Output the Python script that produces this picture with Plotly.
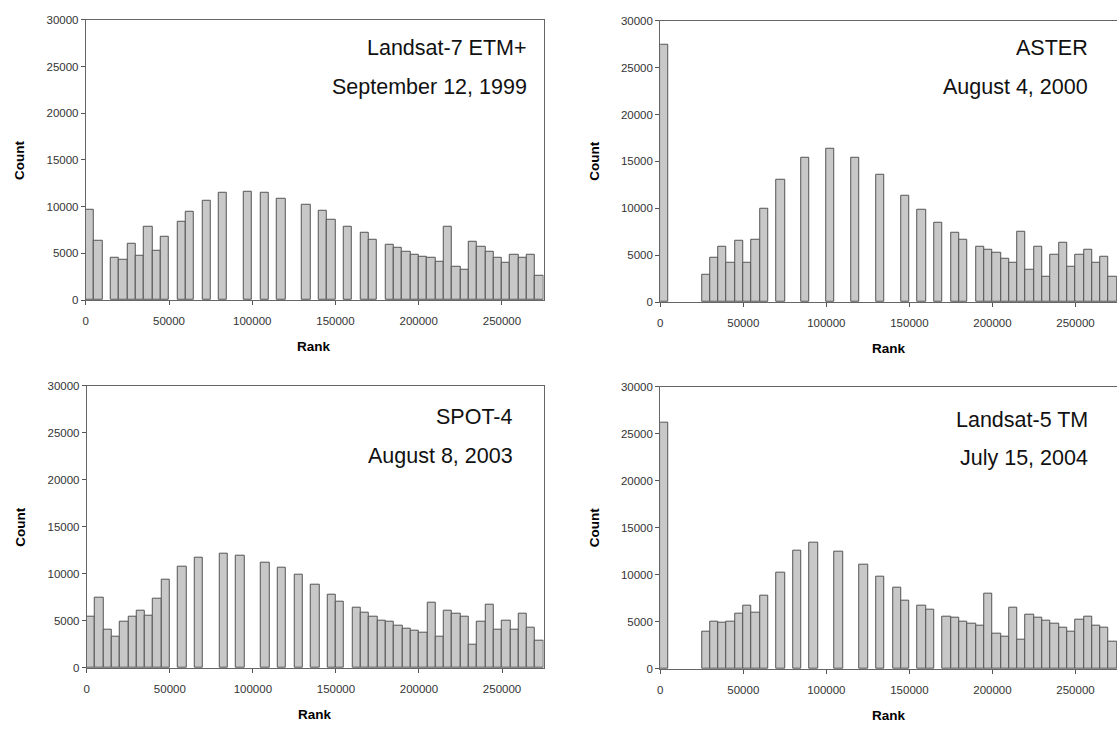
import plotly.graph_objects as go

W, H = 1117, 734
BIN = 5000
N_BINS = 55

titles = [("Landsat-7 ETM+", "September 12, 1999"),
          ("ASTER", "August 4, 2000"),
          ("SPOT-4", "August 8, 2003"),
          ("Landsat-5 TM", "July 15, 2004")]

etm7 = [9700, 6400, None, 4500, 4300, 6000, 4700, 7800, 5300, 6800,
        None, 8400, 9500, None, 10600, None, 11500, None, None, 11600,
        None, 11500, None, 10800, None, None, 10200, None, 9600, 8650,
        None, 7800, None, 7250, 6500, None, 5900, 5600, 5200, 4900,
        4600, 4500, 4100, 7800, 3600, 3300, 6200, 5700, 5200, 4500,
        3950, 4800, 4500, 4800, 2650]

aster = [27400, None, None, None, None, 2950, 4750, 5850, 4150, 6500,
         4200, 6600, 9950, None, 13000, None, None, 15400, None, None,
         16300, None, None, 15400, None, None, 13600, None, None, 11350,
         None, 9800, None, 8500, None, 7350, 6650, None, 5950, 5550,
         5250, 4650, 4200, 7500, 3400, 5950, 2750, 5050, 6300, 3750,
         5000, 5600, 4200, 4800, 2700]

spot4 = [5450, 7500, 4100, 3300, 4900, 5450, 6100, 5600, 7350, 9400,
         None, 10800, None, 11700, None, None, 12100, None, 11900, None,
         None, 11200, None, 10700, None, 9900, None, 8850, None, 7800,
         7100, None, 6400, 5900, 5400, 5000, 4900, 4500, 4200, 3950,
         3800, 6950, 3300, 6050, 5750, 5450, 2500, 4950, 6750, 4050,
         5050, 4050, 5750, 4300, 2850]

tm5 = [26200, None, None, None, None, 4000, 5050, 4950, 5050, 5900,
       6750, 5950, 7750, None, 10200, None, 12550, None, 13450, None,
       None, 12450, None, None, 11100, None, 9800, None, 8650, 7300,
       None, 6700, 6250, None, 5600, 5400, 5050, 4800, 4550, 8050,
       3800, 3450, 6500, 3150, 5750, 5400, 5150, 4800, 4400, 3950,
       5200, 5550, 4650, 4350, 2900]

series = [etm7, aster, spot4, tm5]
x_centers = [BIN / 2 + BIN * i for i in range(N_BINS)]

x_ticks = [0, 50000, 100000, 150000, 200000, 250000]
y_ticks = [0, 5000, 10000, 15000, 20000, 25000, 30000]

# pixel boxes: left, right, top, bottom
boxes = [(83, 542, 14, 299), (659, 1117, 15, 301),
         (84, 542, 386, 673), (659, 1117, 387, 674)]
# annotation anchors: right x, line1 y, line2 y
ann_pos = [(527, 43, 82), (1090, 43, 82), (513, 418, 457), (1090, 421, 460)]

fig = go.Figure()
FONT = "Liberation Sans, Arial, sans-serif"

for k, vals in enumerate(series):
    xa = "x" if k == 0 else f"x{k+1}"
    ya = "y" if k == 0 else f"y{k+1}"
    fig.add_trace(go.Bar(
        x=x_centers, y=vals, width=BIN, xaxis=xa, yaxis=ya,
        marker=dict(color="#c8c8c8", line=dict(color="#555555", width=1)),
        showlegend=False, hoverinfo="x+y"))
    l, r, t, b = boxes[k]
    xkey = "xaxis" if k == 0 else f"xaxis{k+1}"
    ykey = "yaxis" if k == 0 else f"yaxis{k+1}"
    right_cut = r >= W
    fig.layout[xkey] = dict(
        domain=[l / W, min(r / W, 1.0)], range=[0, 275000], anchor=ya,
        tickvals=x_ticks, ticktext=[str(v) for v in x_ticks],
        ticks="outside", ticklen=4, tickcolor="#555555",
        ticklabelstandoff=6,
        showline=True, linecolor="#666666", linewidth=1, mirror=True,
        showgrid=False, zeroline=False,
        tickfont=dict(family=FONT, size=11.5, color="#333333"))
    fig.layout[ykey] = dict(
        domain=[1 - b / H, 1 - t / H], range=[0, 30000], anchor=xa,
        tickvals=y_ticks, ticktext=[str(v) for v in y_ticks],
        ticks="outside", ticklen=4, tickcolor="#555555",
        showline=True, linecolor="#666666", linewidth=1,
        mirror=(not right_cut),
        showgrid=False, zeroline=False,
        tickfont=dict(family=FONT, size=11.5, color="#333333"))
    ax, y1, y2 = ann_pos[k]
    for txt, yy in ((titles[k][0], y1), (titles[k][1], y2)):
        fig.add_annotation(x=ax / W, y=1 - yy / H, xref="paper", yref="paper",
                           text=txt, showarrow=False, xanchor="right",
                           yanchor="middle",
                           font=dict(family=FONT, size=21.5, color="#111111"))
    # axis titles
    fig.add_annotation(x=(l + min(r, 541 + (l - 83))) / 2 / W,
                       y=1 - (b + 47) / H, xref="paper", yref="paper",
                       text="<b>Rank</b>", showarrow=False,
                       xanchor="center", yanchor="middle",
                       font=dict(family=FONT, size=13.5, color="#000000"))
    fig.add_annotation(x=(l - 66) / W, y=1 - ((t + b) / 2) / H,
                       xref="paper", yref="paper",
                       text="<b>Count</b>", showarrow=False, textangle=-90,
                       xanchor="center", yanchor="middle",
                       font=dict(family=FONT, size=13.5, color="#000000"))

fig.update_layout(width=W, height=H, margin=dict(l=0, r=0, t=0, b=0),
                  paper_bgcolor="white", plot_bgcolor="white",
                  bargap=0, barmode="overlay")

fig.write_html("out.html")
